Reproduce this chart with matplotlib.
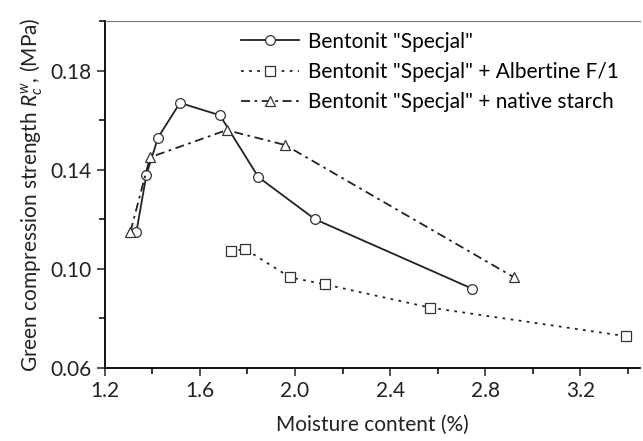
import numpy as np
import matplotlib.pyplot as plt
from matplotlib.ticker import MultipleLocator

plt.rcParams['font.family'] = ['Lato', 'DejaVu Sans']
plt.rcParams['mathtext.fontset'] = 'custom'
plt.rcParams['mathtext.it'] = 'Lato:italic'
plt.rcParams['mathtext.rm'] = 'Lato'

# Bentonit "Specjal"
x1 = [1.333, 1.375, 1.424, 1.516, 1.684, 1.846, 2.084, 2.744]
y1 = [0.115, 0.138, 0.153, 0.167, 0.162, 0.137, 0.120, 0.092]
# + Albertine F/1
x2 = [1.729, 1.789, 1.980, 2.126, 2.568, 3.390]
y2 = [0.107, 0.108, 0.0965, 0.0937, 0.0843, 0.0728]
# + native starch
x3 = [1.308, 1.390, 1.712, 1.958, 2.920]
y3 = [0.115, 0.145, 0.156, 0.150, 0.0966]

labels = ['Bentonit "Specjal"',
          'Bentonit "Specjal" + Albertine F/1',
          'Bentonit "Specjal" + native starch']

fig = plt.figure(figsize=(6.43, 4.41), dpi=100)
ax = fig.add_axes([0.163, 0.166, 0.832, 0.786])

mk = dict(markerfacecolor='white', markeredgecolor='#333333', markersize=7,
          markeredgewidth=0.9, color='#222222', linewidth=1.3)
ax.plot(x1, y1, '-', marker='o', label=labels[0], **mk)
ax.plot(x2, y2, linestyle=(0, (1.5, 3)), marker='s', label=labels[1], **mk)
ax.plot(x3, y3, linestyle=(0, (5, 2.5, 1.5, 2.5)), marker='^', label=labels[2], **mk)

ax.set_xlim(1.2, 3.45)
ax.set_ylim(0.06, 0.20)
ax.set_xticks([1.2, 1.6, 2.0, 2.4, 2.8, 3.2])
ax.set_xticklabels(['1.2', '1.6', '2.0', '2.4', '2.8', '3.2'])
ax.set_yticks([0.06, 0.10, 0.14, 0.18])
ax.set_yticklabels(['0.06', '0.10', '0.14', '0.18'])
ax.xaxis.set_minor_locator(MultipleLocator(0.2))
ax.yaxis.set_minor_locator(MultipleLocator(0.02))
ax.tick_params(which='major', length=6, width=1.1, labelsize=15, colors='#222222')
ax.tick_params(which='minor', length=4, width=1.1)

ax.spines['right'].set_visible(False)
ax.spines['top'].set_color('#777777')
ax.spines['left'].set_linewidth(1.3)
ax.spines['bottom'].set_linewidth(1.3)

ax.set_xlabel('Moisture content (%)', fontsize=15, color='#222222', labelpad=10)
ax.set_ylabel('Green compression strength $R_c^w$, (MPa)', fontsize=15,
              color='#222222', labelpad=4)

ax.legend(loc='upper left', bbox_to_anchor=(0.235, 1.0), frameon=False,
          fontsize=15, handlelength=2.8, handletextpad=0.4, labelspacing=0.5,
          borderaxespad=0.1)

fig.savefig('out.png', dpi=100)
